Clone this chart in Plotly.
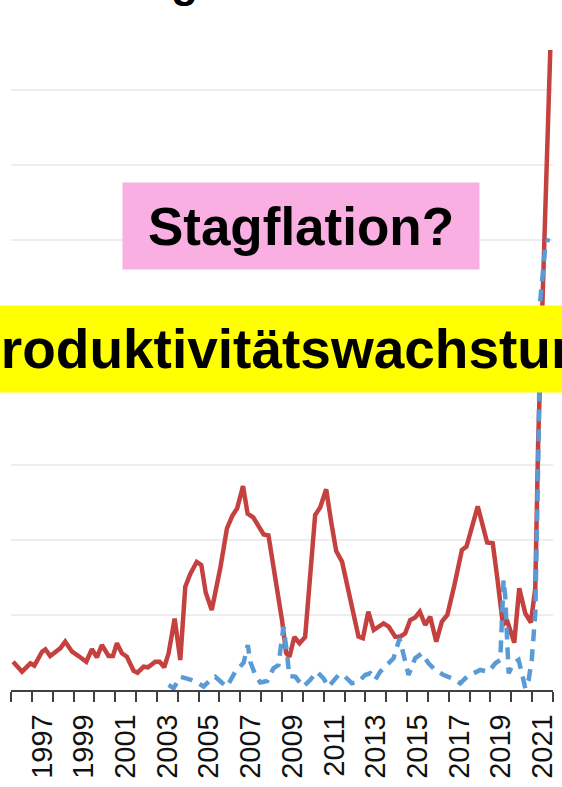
import plotly.graph_objects as go

# ---- data (decimal years, values in gridline units) ----
red_years = [1996.10, 1996.53, 1996.93, 1997.12, 1997.49, 1997.65, 1997.88, 1998.21, 1998.36, 1998.60,
             1998.93, 1999.24, 1999.61, 1999.88, 2000.12, 2000.36, 2000.68, 2000.89, 2001.08, 2001.32,
             2001.56, 2001.88, 2002.07, 2002.36, 2002.57, 2002.92, 2003.13, 2003.35, 2003.56, 2003.85,
             2004.12, 2004.36, 2004.60, 2004.91, 2005.13, 2005.34, 2005.63, 2006.04, 2006.36, 2006.61,
             2006.85, 2007.13, 2007.35, 2007.62, 2008.12, 2008.35, 2008.68, 2009.00, 2009.20, 2009.36,
             2009.59, 2009.84, 2010.11, 2010.35, 2010.59, 2010.83, 2011.12, 2011.36, 2011.60, 2011.88,
             2012.27, 2012.67, 2012.88, 2013.14, 2013.40, 2013.87, 2014.12, 2014.43, 2014.67, 2014.91,
             2015.15, 2015.39, 2015.61, 2015.87, 2016.11, 2016.40, 2016.67, 2016.93, 2017.26, 2017.63,
             2017.85, 2018.39, 2018.84, 2019.11, 2019.34, 2019.60, 2019.79, 2019.92, 2020.14, 2020.38,
             2020.67, 2020.94, 2021.15, 2021.29, 2021.87]
red_values = [0.377, 0.244, 0.356, 0.324, 0.511, 0.543, 0.453, 0.533, 0.556, 0.644,
              0.511, 0.453, 0.377, 0.543, 0.436, 0.600, 0.453, 0.453, 0.623, 0.489,
              0.444, 0.257, 0.231, 0.311, 0.303, 0.377, 0.377, 0.303, 0.489, 0.953,
              0.400, 1.377, 1.547, 1.707, 1.667, 1.300, 1.067, 1.627, 2.156, 2.320,
              2.423, 2.720, 2.351, 2.303, 2.073, 2.060, 1.511, 0.933, 0.489, 0.444,
              0.707, 0.623, 0.707, 1.467, 2.333, 2.433, 2.676, 2.240, 1.853, 1.711,
              1.227, 0.711, 0.689, 1.044, 0.800, 0.889, 0.844, 0.711, 0.711, 0.756,
              0.933, 0.967, 1.044, 0.867, 0.977, 0.644, 0.911, 1.000, 1.387, 1.867,
              1.911, 2.449, 1.967, 1.956, 1.467, 0.867, 0.933, 0.800, 0.631, 1.356,
              1.023, 0.900, 1.360, 3.333, 8.533]

blue_years = [2003.56, 2003.80, 2004.12, 2004.60, 2005.00, 2005.24, 2005.56, 2005.80, 2006.12, 2006.36,
              2006.76, 2007.16, 2007.36, 2007.48, 2007.72, 2007.96, 2008.29, 2008.59, 2008.83, 2008.92,
              2009.07, 2009.24, 2009.35, 2009.64, 2010.02, 2010.35, 2010.68, 2010.99, 2011.23, 2011.71,
              2011.95, 2012.35, 2012.67, 2012.99, 2013.23, 2013.47, 2013.71, 2014.03, 2014.35, 2014.64,
              2014.83, 2015.07, 2015.39, 2015.71, 2016.03, 2016.35, 2016.75, 2017.15, 2017.55, 2017.87,
              2018.19, 2018.51, 2018.91, 2019.23, 2019.47, 2019.55, 2019.63, 2019.71, 2019.79, 2019.87,
              2020.11, 2020.35, 2020.51, 2020.67, 2020.83, 2020.98, 2021.15, 2021.23, 2021.31, 2021.39,
              2021.63, 2021.78]
blue_values = [0.067, 0.023, 0.177, 0.140, 0.089, 0.044, 0.133, 0.177, 0.097, 0.044,
               0.244, 0.364, 0.600, 0.377, 0.200, 0.100, 0.120, 0.289, 0.333, 0.533,
               0.844, 0.489, 0.187, 0.177, 0.044, 0.133, 0.244, 0.156, 0.044, 0.200,
               0.200, 0.089, 0.111, 0.200, 0.223, 0.133, 0.244, 0.333, 0.423, 0.689,
               0.489, 0.200, 0.423, 0.489, 0.356, 0.267, 0.200, 0.156, 0.089, 0.177,
               0.223, 0.267, 0.244, 0.356, 0.400, 0.933, 1.467, 1.244, 0.489, 0.223,
               0.356, 0.400, 0.223, 0.023, 0.133, 0.400, 1.023, 1.911, 3.333, 5.200,
               5.911, 6.023]

label_years = list(range(1997, 2022, 2))
tick_labels = [str(y) for y in label_years]
year_bounds = list(range(1996, 2023))

title_text = "Teuerung in Deutschland"
note_pink = "Stagflation?"
note_yellow = "Produktivitätswachstum"

# ---- figure ----
fig = go.Figure()
fig.add_trace(go.Scatter(x=red_years, y=red_values, mode="lines",
                         line=dict(color="#C4413F", width=4.5), hoverinfo="skip"))
fig.add_trace(go.Scatter(x=blue_years, y=blue_values, mode="lines",
                         line=dict(color="#5B9BD5", width=4.5, dash="12px,8px"), hoverinfo="skip"))

fig.update_layout(
    width=562, height=787,
    margin=dict(l=11, r=9, t=15, b=97, autoexpand=False),
    paper_bgcolor="white", plot_bgcolor="white",
    showlegend=False,
    font=dict(family="Liberation Sans", color="black"),
)

fig.update_xaxes(
    range=[1996, 2022], automargin=False,
    tickmode="array", tickvals=[y + 0.5 for y in label_years], ticktext=tick_labels,
    tickangle=-90, tickfont=dict(size=29, family="Liberation Sans", color="#111111"),
    ticks="", ticklabelstandoff=11,
    showgrid=False, zeroline=False,
    showline=True, linecolor="#404040", linewidth=1.5,
    minor=dict(tickmode="array", tickvals=year_bounds, ticks="outside", ticklen=10,
               tickwidth=1.5, tickcolor="#404040", showgrid=False),
)
fig.update_yaxes(
    range=[0, 9], dtick=1, tick0=0, automargin=False,
    showticklabels=False, ticks="",
    showgrid=True, gridcolor="#EDEDED", gridwidth=1.5,
    zeroline=False, showline=False,
)

fig.add_annotation(
    text=note_pink, xref="paper", yref="paper", x=0.535, y=0.6874,
    xanchor="center", yanchor="middle", showarrow=False,
    width=356, height=86, borderpad=0, bgcolor="#F9AFE1",
    font=dict(family="Liberation Sans", size=53, color="black", weight="bold"),
)
fig.add_annotation(
    text=note_yellow, xref="paper", yref="paper", x=0.5, y=0.5052,
    xanchor="center", yanchor="middle", showarrow=False,
    width=720, height=86, borderpad=0, bgcolor="#FFFF00",
    font=dict(family="Liberation Sans", size=55, color="black", weight="bold"),
)
fig.add_annotation(
    text=title_text, xref="paper", yref="paper", x=0.465, y=1.0495,
    xanchor="center", yanchor="middle", showarrow=False,
    font=dict(family="Liberation Sans", size=44, color="black", weight="bold"),
)

fig.write_html("out.html", config={"displayModeBar": False},
               post_script="document.body.style.margin='0';document.body.style.overflow='hidden';")
